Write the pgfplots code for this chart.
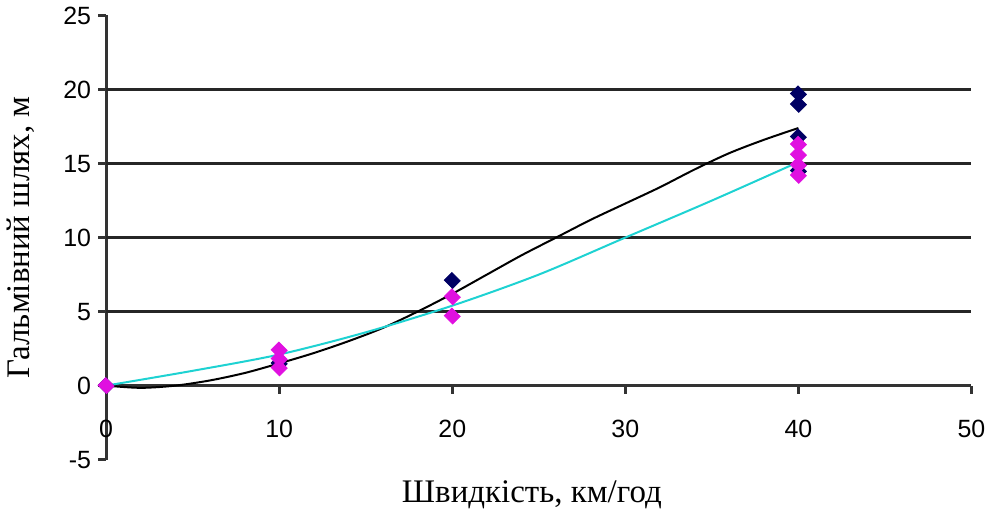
\documentclass[border=0pt]{standalone}
\usepackage{fontspec}
\setmainfont{Liberation Serif}
\newfontfamily\arialfont{Liberation Sans}
\usepackage{pgfplots}
\pgfplotsset{compat=1.18}
\definecolor{navyc}{RGB}{0,0,100}
\definecolor{magc}{RGB}{224,16,224}
\definecolor{cyanc}{RGB}{30,210,210}
\begin{document}
\begin{tikzpicture}
\begin{axis}[
  scale only axis, width=433.5pt, height=222.5pt,
  xmin=0, xmax=50, ymin=-5, ymax=25,
  axis x line=middle, axis y line=left,
  axis line style={-, line width=1.4pt, color=black!80},
  xtick={0,10,...,50}, ytick={-5,0,...,25},
  hide obscured x ticks=false, hide obscured y ticks=false,
  tick align=outside, major tick length=4pt,
  tick style={line width=1.4pt, black!80},
  extra y ticks={5,10,15,20}, extra y tick labels={},
  extra y tick style={grid=major, major tick length=0pt},
  grid style={line width=1.4pt, black!85},
  tick label style={font=\arialfont\fontsize{12.5}{14}\selectfont},
  /pgf/number format/assume math mode=true,
  xticklabel style={yshift=-9.5pt},
  xlabel={Швидкість, км/год},
  ylabel={Гальмівний шлях, м},
  xlabel style={at={(axis description cs:0.492,-0.078)}, anchor=center, font=\fontsize{16.5}{18}\selectfont},
  ylabel style={at={(axis description cs:-0.099,0.5)}, anchor=center, rotate=0, font=\fontsize{16.5}{18}\selectfont},
  clip=false,
]
\addplot[only marks, mark=square*, mark size=2.7pt, mark options={rotate=45, yscale=1.1}, color=navyc] coordinates {
  (0,0) (10,1.5) (20,7.1) (40,19.7) (40,19.0) (40,16.8) (40,14.5)};
\addplot[only marks, mark=square*, mark size=2.7pt, mark options={rotate=45, yscale=1.1}, color=magc] coordinates {
  (0,0) (10,2.4) (10,1.8) (10,1.2) (20,6.0) (20,4.7) (40,16.3) (40,15.6) (40,14.9) (40,14.2)};
\addplot[smooth, line width=1pt, black] coordinates {
  (0,0) (2,-0.15) (4,0.0) (6,0.35) (8,0.85) (10,1.5) (12,2.2) (14,3.0) (16,3.9) (18,5.0) (20,6.2) (22,7.5) (24,8.8) (26,10.0) (28,11.2) (30,12.3) (32,13.4) (34,14.6) (36,15.7) (38,16.6) (40,17.4)};
\addplot[smooth, line width=1pt, cyanc] coordinates {
  (0,0) (5,1.0) (10,2.1) (15,3.6) (20,5.4) (25,7.5) (30,10.0) (35,12.5) (40,15.1)};
\end{axis}
\end{tikzpicture}
\end{document}
